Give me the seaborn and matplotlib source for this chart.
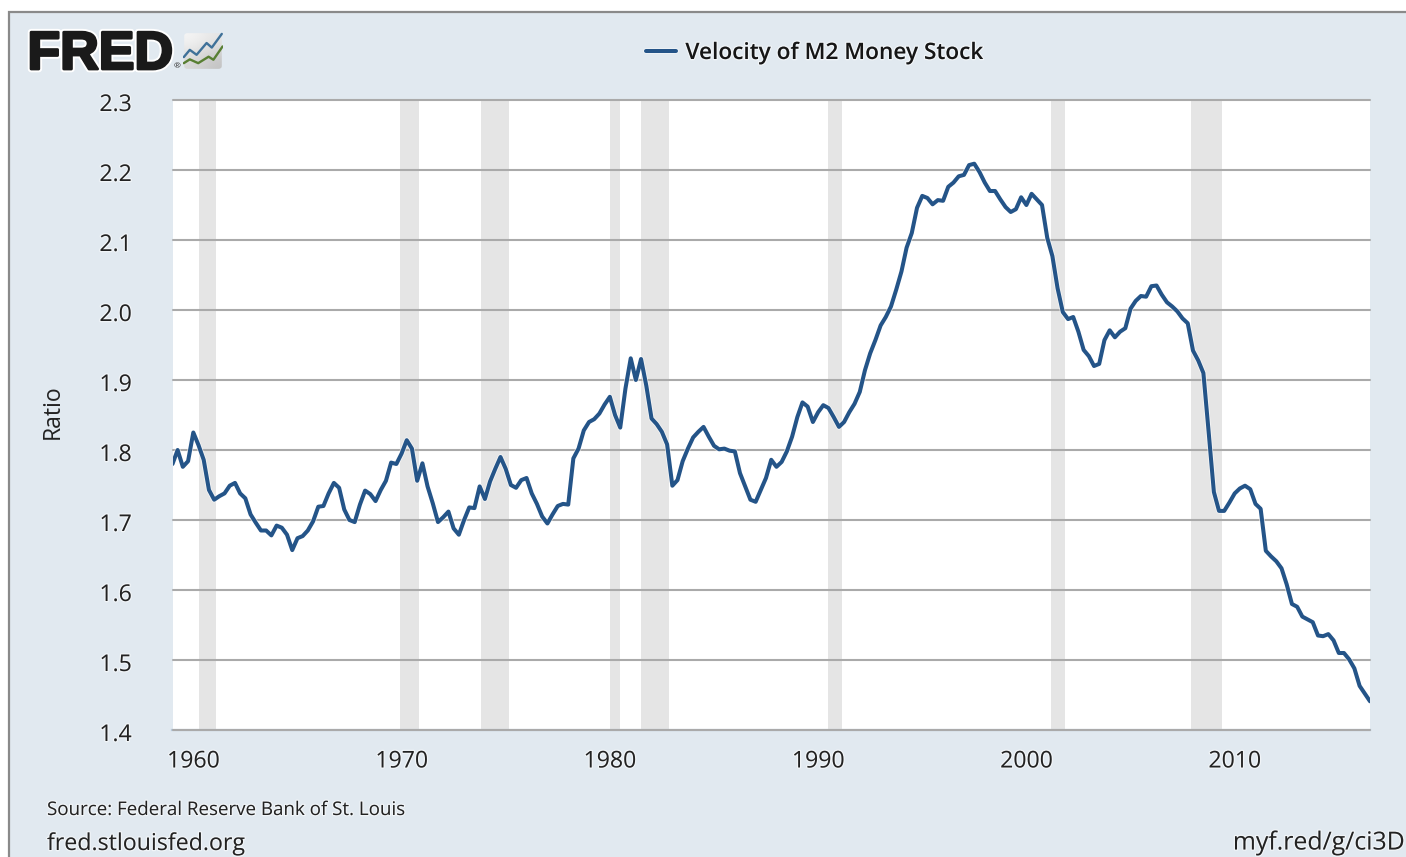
### FRED velocity of M2 chart
import pandas as pd
import numpy as np
import matplotlib
matplotlib.use("Agg")
import matplotlib.pyplot as plt
import matplotlib.dates as mdates
import matplotlib.patheffects as pe
import matplotlib.transforms as mtrans
from matplotlib.patches import Rectangle, FancyBboxPatch
import seaborn as sns

# quarterly values, 1959Q1 to 2016Q3
velocity = [
    1.780, 1.800, 1.776, 1.784, 1.825, 1.807, 1.786, 1.743, 1.729, 1.734, 1.738, 1.749,
    1.753, 1.738, 1.731, 1.708, 1.696, 1.685, 1.685, 1.678, 1.692, 1.689, 1.679, 1.657,
    1.674, 1.677, 1.685, 1.698, 1.719, 1.720, 1.738, 1.753, 1.746, 1.715, 1.700, 1.697,
    1.722, 1.742, 1.737, 1.727, 1.743, 1.756, 1.782, 1.780, 1.795, 1.814, 1.802, 1.756,
    1.781, 1.748, 1.724, 1.697, 1.704, 1.712, 1.688, 1.679, 1.700, 1.718, 1.717, 1.748,
    1.730, 1.755, 1.773, 1.790, 1.773, 1.750, 1.746, 1.757, 1.760, 1.738, 1.723, 1.705,
    1.695, 1.708, 1.720, 1.723, 1.722, 1.788, 1.802, 1.828, 1.840, 1.844, 1.852, 1.865,
    1.876, 1.850, 1.832, 1.888, 1.931, 1.900, 1.930, 1.892, 1.845, 1.837, 1.826, 1.808,
    1.749, 1.757, 1.784, 1.802, 1.818, 1.826, 1.833, 1.819, 1.806, 1.801, 1.802, 1.799,
    1.798, 1.767, 1.748, 1.729, 1.726, 1.743, 1.760, 1.786, 1.776, 1.783, 1.798, 1.819,
    1.847, 1.868, 1.862, 1.840, 1.854, 1.864, 1.860, 1.847, 1.833, 1.840, 1.854, 1.866,
    1.883, 1.914, 1.938, 1.957, 1.978, 1.990, 2.005, 2.029, 2.055, 2.089, 2.110, 2.146,
    2.163, 2.160, 2.151, 2.157, 2.156, 2.176, 2.182, 2.191, 2.193, 2.207, 2.209, 2.197,
    2.182, 2.170, 2.170, 2.158, 2.147, 2.140, 2.144, 2.161, 2.150, 2.166, 2.158, 2.150,
    2.103, 2.077, 2.031, 1.997, 1.987, 1.990, 1.969, 1.943, 1.934, 1.920, 1.923, 1.957,
    1.971, 1.961, 1.969, 1.974, 2.002, 2.013, 2.020, 2.019, 2.034, 2.035, 2.022, 2.011,
    2.005, 1.998, 1.988, 1.981, 1.942, 1.928, 1.910, 1.826, 1.740, 1.713, 1.713, 1.725,
    1.738, 1.745, 1.749, 1.744, 1.723, 1.716, 1.656, 1.648, 1.641, 1.631, 1.608, 1.580,
    1.576, 1.562, 1.558, 1.554, 1.535, 1.534, 1.537, 1.528, 1.510, 1.510, 1.501, 1.488,
    1.463, 1.452, 1.441,
]
recession_start = ["1960-04-01", "1969-12-01", "1973-11-01", "1980-01-01",
                   "1981-07-01", "1990-07-01", "2001-03-01", "2007-12-01"]
recession_end = ["1961-02-01", "1970-11-01", "1975-03-01", "1980-07-01",
                 "1982-11-01", "1991-03-01", "2001-11-01", "2009-06-01"]
y_ticks = [1.4, 1.5, 1.6, 1.7, 1.8, 1.9, 2.0, 2.1, 2.2, 2.3]
series_name = "Velocity of M2 Money Stock"

# little logo lines, in icon units
icon_x_blue = [0.02, 0.17, 0.34, 0.59, 0.72, 0.97]
icon_y_blue = [0.34, 0.53, 0.40, 0.71, 0.59, 0.95]
icon_x_green = [0.02, 0.17, 0.38, 0.64, 0.76, 0.99]
icon_y_green = [0.18, 0.28, 0.18, 0.35, 0.27, 0.62]

W, H = 1406, 857
BG = "#e1e9f0"
LINE = "#245488"
TXT = "#222222"

sns.set_theme(style="white")
plt.rcParams["font.family"] = ["Open Sans", "DejaVu Sans"]

data = pd.DataFrame({"date": pd.date_range("1959-01-01", periods=len(velocity), freq="QS"),
                     "velocity": velocity})

fig = plt.figure(figsize=(W / 100, H / 100), dpi=100, facecolor="white")
# panel with grey border on top and left, runs off the other two sides
fig.patches.append(Rectangle((8.5 / W, -0.02), 1.02, 1.02 - 11.5 / H, transform=fig.transFigure,
                             facecolor=BG, edgecolor="#8a8a8a", linewidth=1.6, zorder=-5))

ax = fig.add_axes([172.5 / W, 1 - 730 / H, (1370 - 172.5) / W, (730 - 100) / H])
ax.set_facecolor("white")

for a, b in zip(recession_start, recession_end):
    ax.axvspan(pd.Timestamp(a), pd.Timestamp(b), color="#e5e5e5", lw=0, zorder=1)

sns.lineplot(data=data, x="date", y="velocity", color=LINE, lw=2.9, ax=ax, zorder=4,
             label=series_name, errorbar=None,
             path_effects=[pe.Stroke(linewidth=4.1, foreground="white", alpha=0.6), pe.Normal()])

ax.set_xlim(pd.Timestamp("1959-01-01"), pd.Timestamp("2016-07-01"))
ax.set_ylim(1.4, 2.3)
ax.set_yticks(y_ticks)
ax.set_yticklabels(["%.1f" % v for v in y_ticks])
ax.xaxis.set_major_locator(mdates.YearLocator(10))
ax.xaxis.set_major_formatter(mdates.DateFormatter("%Y"))
ax.grid(axis="y", color="#aaaaaa", lw=1.5, zorder=2)
ax.grid(axis="x", visible=False)
ax.set_axisbelow(False)
for line in ax.get_ygridlines():
    line.set_zorder(2)
    line.set_clip_on(False)
ax.set_xlabel("")
ax.set_ylabel("Ratio", fontsize=16.6, color=TXT)
ax.yaxis.set_label_coords(65 / W, 1 - 412 / H, transform=fig.transFigure)

sns.despine(ax=ax, left=True, right=True, top=True)
ax.spines["bottom"].set_color("#b9cbdd")
ax.spines["bottom"].set_linewidth(1.6)
ax.tick_params(axis="y", length=0, labelsize=16.6, labelcolor=TXT, pad=29.5)
ax.tick_params(axis="x", length=13, width=1.1, color="#c0d0e0", labelsize=16.6, labelcolor=TXT, pad=1)

glow = [pe.withStroke(linewidth=1.8, foreground="white", alpha=0.55)]
shift_down = mtrans.ScaledTranslation(0, -2 / 100, fig.dpi_scale_trans)
for t in ax.get_yticklabels():
    t.set_transform(t.get_transform() + shift_down)
for t in ax.get_xticklabels() + ax.get_yticklabels():
    t.set_path_effects(glow)

leg = ax.legend(loc="center left", bbox_to_anchor=(646 / W, 1 - 53 / H),
                bbox_transform=fig.transFigure, frameon=False, fontsize=16.3,
                handlelength=1.34, handletextpad=0.4, borderpad=0, borderaxespad=0)
for t in leg.get_texts():
    t.set_color("#161616")
    t.set_fontweight("semibold")
    t.set_path_effects(glow)

# footer
fig.text(47 / W, 1 - 810 / H, "Source: Federal Reserve Bank of St. Louis", fontsize=13.5,
         color=TXT, va="center", ha="left", path_effects=glow)
fig.text(47 / W, 1 - 844 / H, "fred.stlouisfed.org", fontsize=16.7,
         color=TXT, va="center", ha="left", path_effects=glow)
fig.text(1405 / W, 1 - 843 / H, "myf.red/g/ci3D", fontsize=17.9,
         color=TXT, va="center", ha="right", path_effects=glow)

# logo
fig.text(27.5 / W, 1 - 69 / H, "FRED", fontsize=38.5, fontweight="bold", family="Liberation Sans",
         color="#1a1a1a", va="baseline", ha="left",
         path_effects=[pe.withStroke(linewidth=4.8, foreground="white"),
                       pe.withStroke(linewidth=2, foreground="#1a1a1a")])
fig.text(177 / W, 1 - 67 / H, "®", fontsize=6, color="#333333", va="center", ha="center")

icon = fig.add_axes([183 / W, 1 - 70 / H, 40 / W, 38 / H])
icon.axis("off")
grad = np.array([[0.96, 0.90], [0.84, 0.76]])
img = icon.imshow(grad, extent=(0, 1, 0, 1), cmap="gray", vmin=0, vmax=1,
                  interpolation="bicubic", aspect="auto")
clip = FancyBboxPatch((0.03, 0.03), 0.94, 0.94, boxstyle="round,pad=0,rounding_size=0.08",
                      transform=icon.transData, facecolor="none", edgecolor="none")
icon.add_patch(clip)
img.set_clip_path(clip)
sns.lineplot(x=icon_x_blue, y=icon_y_blue, color="#3f7199", lw=1.7, ax=icon)
sns.lineplot(x=icon_x_green, y=icon_y_green, color="#587f33", lw=1.7, ax=icon)
icon.set_xlim(0, 1)
icon.set_ylim(0, 1)

fig.savefig("out.png", dpi=100, facecolor=fig.get_facecolor())
